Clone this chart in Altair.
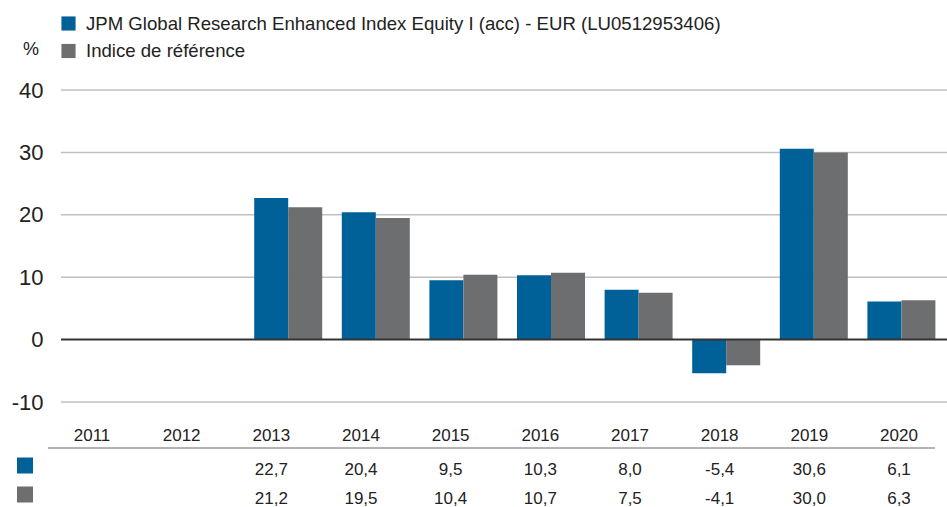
import altair as alt
import pandas as pd

years = ['2011', '2012', '2013', '2014', '2015', '2016', '2017', '2018', '2019', '2020']
series = ['JPM Global Research Enhanced Index Equity I (acc) - EUR (LU0512953406)',
          'Indice de référence']
fund = [None, None, 22.7, 20.4, 9.5, 10.3, 8.0, -5.4, 30.6, 6.1]
bench = [None, None, 21.2, 19.5, 10.4, 10.7, 7.5, -4.1, 30.0, 6.3]
colors = ['#006199', '#6d6e70']
y_ticks = [-10, 0, 10, 20, 30, 40]

FONT = 'Liberation Sans'
TXT = '#222222'

rows = []
for s, vals in zip(series, [fund, bench]):
    for y, v in zip(years, vals):
        rows.append({'year': y, 'series': s, 'value': v,
                     'label': '' if v is None else f"{v:.1f}".replace('.', ',')})
df = pd.DataFrame(rows)
bars_df = df.dropna(subset=['value'])

color_scale = alt.Scale(domain=series, range=colors)
y_scale = alt.Scale(domain=[-10, 40], nice=False)
y_axis = alt.Axis(values=y_ticks, grid=False, ticks=False, domain=False,
                  labelFontSize=22, labelPadding=18,
                  labelColor=TXT, labelFont=FONT, title=None,
                  labelExpr="datum.value + ''")

grid_df = pd.DataFrame({'v': [t for t in y_ticks if t != 0]})
grid = alt.Chart(grid_df).mark_rule(color='#c0c0c0', strokeWidth=1.5).encode(
    x=alt.value(0), x2=alt.value(886),
    y=alt.Y('v:Q', scale=y_scale, axis=y_axis)
)

bars = alt.Chart(bars_df).mark_bar(size=34).encode(
    x=alt.X('year:N', scale=alt.Scale(domain=years, range=[18, 874.4],
                                      paddingInner=0.2237, paddingOuter=0), axis=None),
    xOffset=alt.XOffset('series:N', scale=alt.Scale(domain=series, paddingInner=0, paddingOuter=0)),
    y=alt.Y('value:Q', scale=y_scale, axis=y_axis),
    y2=alt.datum(0),
    color=alt.Color('series:N', scale=color_scale, legend=None),
)

zero = alt.Chart(pd.DataFrame({'v': [0]})).mark_rule(color='#333333', strokeWidth=2).encode(
    x=alt.value(0), x2=alt.value(886),
    y=alt.Y('v:Q', scale=y_scale, axis=y_axis)
)

table_x = alt.X('year:N', scale=alt.Scale(type='point', domain=years, range=[31, 838], padding=0),
                axis=None)

year_df = pd.DataFrame({'year': years})
year_text = alt.Chart(year_df).mark_text(fontSize=17, font=FONT, color=TXT, baseline='middle').encode(
    x=table_x, y=alt.value(345.5), text='year:N'
)

table_rule = alt.Chart(pd.DataFrame({'a': [0]})).mark_rule(color='#9a9a9a', strokeWidth=1.5).encode(
    x=alt.value(-13), x2=alt.value(874), y=alt.value(358)
)

layers = [grid, bars, zero, table_rule]
text_layers = [year_text]

row_y = [380, 408.5]
sq_y = [375.5, 404.5]
leg_y = [-66.5, -39]
for i, s in enumerate(series):
    sdf = df[df['series'] == s]
    text_layers.append(
        alt.Chart(sdf).mark_text(fontSize=17, font=FONT, color=TXT, baseline='middle').encode(
            x=table_x, y=alt.value(row_y[i]), text='label:N'
        )
    )
    one = pd.DataFrame({'series': [s]})
    layers.append(
        alt.Chart(one).mark_square(size=256, opacity=1).encode(
            x=alt.value(-36), y=alt.value(sq_y[i]),
            color=alt.Color('series:N', scale=color_scale, legend=None)
        )
    )
    layers.append(
        alt.Chart(one).mark_square(size=200, opacity=1).encode(
            x=alt.value(7.5), y=alt.value(leg_y[i]),
            color=alt.Color('series:N', scale=color_scale, legend=None)
        )
    )
    layers.append(
        alt.Chart(one).mark_text(fontSize=18.6, font=FONT, color=TXT, align='left', baseline='middle').encode(
            x=alt.value(25), y=alt.value(leg_y[i]), text='series:N'
        )
    )

pct = alt.Chart(pd.DataFrame({'t': ['%']})).mark_text(fontSize=18, font=FONT, color=TXT,
                                                      baseline='middle').encode(
    x=alt.value(-30), y=alt.value(-40), text='t:N'
)
layers.append(pct)

chart = alt.layer(*layers, *text_layers).resolve_scale(x='independent').properties(
    width=886, height=312, autosize='none', background='white',
    padding={'left': 61, 'top': 90, 'right': 0, 'bottom': 105}
).configure_view(stroke=None)

chart.save('out.html', embed_options={'renderer': 'svg', 'actions': False})
